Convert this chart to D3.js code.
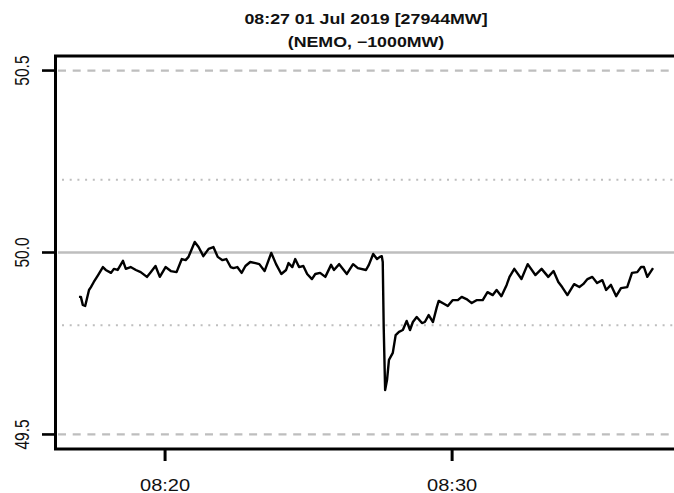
<!DOCTYPE html>
<html>
	<head>
		<script src="https://d3js.org/d3.v7.min.js" charset="utf-8"></script>
		<style type="text/css">
			body {
				margin: 0;
				background-color: white;
				font-family: "Liberation Sans", Arial, sans-serif;
			}
		</style>
	</head>
	<body>
		<script>
		// chart data
		var titleLines = ["08:27 01 Jul 2019 [27944MW]", "(NEMO, \u22121000MW)"];
		var startTime = "2019-07-01 08:17:00";
		var offsetSec = [0, 4, 8, 13, 17, 21, 25, 31, 40, 50, 56, 67, 73, 81, 92, 98, 108, 119, 129, 142,
			150, 160, 169, 181, 192, 204, 215, 223, 229, 242, 250, 260, 271, 281, 290, 300, 308, 317, 323, 331,
			340, 348, 358, 369, 377, 388, 402, 412, 423, 433, 438, 446, 452, 460, 469, 477, 487, 494, 504, 515,
			527, 533, 544, 560, 573, 583, 600, 606, 615, 623, 629, 633, 635, 637, 640, 644, 648, 656, 662, 669,
			677, 685, 692, 698, 706, 717, 723, 731, 740, 748, 752, 760, 771, 781, 792, 800, 810, 821, 831, 844,
			854, 865, 873, 883, 894, 900, 910, 925, 938, 954, 967, 981, 992, 1002, 1010, 1021, 1035, 1046, 1054, 1063,
			1073, 1083, 1094, 1102, 1112, 1123, 1133, 1146, 1156, 1167, 1175, 1181, 1188, 1200];
		var freq = [49.878, 49.878, 49.856, 49.853, 49.875, 49.897, 49.905, 49.919, 49.938, 49.960, 49.952, 49.944, 49.955, 49.952, 49.977, 49.955, 49.960, 49.952, 49.946, 49.933,
			49.946, 49.963, 49.933, 49.960, 49.949, 49.946, 49.982, 49.979, 49.988, 50.029, 50.015, 49.990, 50.010, 50.015, 49.988, 49.979, 49.982, 49.960, 49.957, 49.960,
			49.944, 49.963, 49.974, 49.971, 49.968, 49.949, 49.999, 49.968, 49.941, 49.952, 49.971, 49.960, 49.982, 49.960, 49.963, 49.941, 49.927, 49.941, 49.944, 49.933,
			49.966, 49.952, 49.968, 49.941, 49.968, 49.957, 49.952, 49.966, 49.996, 49.982, 49.988, 49.990, 49.974, 49.795, 49.622, 49.650, 49.705, 49.724, 49.773, 49.782,
			49.787, 49.812, 49.787, 49.809, 49.823, 49.806, 49.809, 49.828, 49.809, 49.850, 49.867, 49.861, 49.853, 49.869, 49.869, 49.878, 49.872, 49.861, 49.869, 49.869,
			49.891, 49.883, 49.897, 49.880, 49.911, 49.933, 49.955, 49.927, 49.968, 49.938, 49.955, 49.933, 49.949, 49.919, 49.905, 49.883, 49.913, 49.905, 49.913, 49.927,
			49.933, 49.916, 49.924, 49.897, 49.911, 49.880, 49.902, 49.905, 49.944, 49.946, 49.960, 49.960, 49.933, 49.957];
		var xTickLabels = ["08:20", "08:30"];
		var yTicks = [49.5, 50.0, 50.5];
		var dashedLevels = [49.5, 50.5];
		var dottedLevels = [49.8, 50.2];
		var solidLevels = [50.0];

		var w = 674;
		var h = 493;
		var stretch = 1.27; // the source picture is wider than it is tall

		var parseTime = d3.timeParse("%Y-%m-%d %H:%M");
		var parseFull = d3.timeParse("%Y-%m-%d %H:%M:%S");
		var t0 = parseFull(startTime);

		var data = offsetSec.map(function(s, i) {
			return {t: new Date(t0.getTime() + s * 1000), f: freq[i]};
		});

		// R style 4% padding round the data range
		var tExt = d3.extent(data, function(d) {return d.t});
		var pad = (tExt[1] - tExt[0]) * 0.04;
		var x = d3.scaleTime()
			.domain([new Date(tExt[0].getTime() - pad), new Date(tExt[1].getTime() + pad)])
			.range([56, 676]);
		var y = d3.scaleLinear()
			.domain([49.46, 50.54])
			.range([449, 56]);

		var svg = d3.select("body")
			.append("svg")
			.attr("width", w)
			.attr("height", h);

		// grid lines
		svg.selectAll(".dashed")
			.data(dashedLevels)
			.enter()
				.append("line")
				.attr("x1", 58).attr("x2", 676)
				.attr("y1", function(d) {return y(d)})
				.attr("y2", function(d) {return y(d)})
				.attr("stroke", "#bebebe")
				.attr("stroke-width", 2.2)
				.attr("stroke-dasharray", "8,6.7");

		svg.selectAll(".dotted")
			.data(dottedLevels)
			.enter()
				.append("line")
				.attr("x1", 62).attr("x2", 676)
				.attr("y1", function(d) {return y(d)})
				.attr("y2", function(d) {return y(d)})
				.attr("stroke", "#bebebe")
				.attr("stroke-width", 2)
				.attr("stroke-dasharray", "2,5.7");

		svg.selectAll(".solid")
			.data(solidLevels)
			.enter()
				.append("line")
				.attr("x1", 58).attr("x2", 676)
				.attr("y1", function(d) {return y(d)})
				.attr("y2", function(d) {return y(d)})
				.attr("stroke", "#bebebe")
				.attr("stroke-width", 2.6);

		// frequency trace
		var line = d3.line()
			.x(function(d) {return x(d.t)})
			.y(function(d) {return y(d.f)});

		svg.append("path")
			.datum(data)
			.attr("d", line)
			.attr("fill", "none")
			.attr("stroke", "black")
			.attr("stroke-width", 2.4)
			.attr("stroke-linejoin", "round");

		// box
		svg.append("rect")
			.attr("x", 55.5).attr("y", 56)
			.attr("width", 624).attr("height", 393)
			.attr("fill", "none")
			.attr("stroke", "black")
			.attr("stroke-width", 3);

		// y axis
		svg.selectAll(".ytick")
			.data(yTicks)
			.enter()
				.append("line")
				.attr("x1", 42).attr("x2", 56)
				.attr("y1", function(d) {return y(d)})
				.attr("y2", function(d) {return y(d)})
				.attr("stroke", "black")
				.attr("stroke-width", 2.6);

		svg.selectAll(".ylab")
			.data(yTicks)
			.enter()
				.append("text")
				.attr("transform", function(d) {return "translate(29," + y(d) + ") scale(" + stretch + ",1) rotate(-90)"})
				.attr("text-anchor", "middle")
				.attr("font-size", "15.5px")
				.attr("fill", "#111")
				.text(function(d) {return d3.format(".1f")(d)});

		// x axis
		var xTicks = xTickLabels.map(function(s) {return parseTime("2019-07-01 " + s)});

		svg.selectAll(".xtick")
			.data(xTicks)
			.enter()
				.append("line")
				.attr("x1", function(d) {return x(d)})
				.attr("x2", function(d) {return x(d)})
				.attr("y1", 449).attr("y2", 461)
				.attr("stroke", "black")
				.attr("stroke-width", 3);

		svg.selectAll(".xlab")
			.data(xTicks)
			.enter()
				.append("text")
				.attr("transform", function(d) {return "translate(" + x(d) + ",491) scale(" + stretch + ",1)"})
				.attr("text-anchor", "middle")
				.attr("font-size", "15.8px")
				.attr("fill", "#111")
				.text(function(d) {return d3.timeFormat("%H:%M")(d)});

		// title
		var cx = (x.range()[0] + x.range()[1]) / 2;
		svg.selectAll(".title")
			.data(titleLines)
			.enter()
				.append("text")
				.attr("transform", function(d, i) {return "translate(" + cx + "," + (24 + i * 23) + ") scale(" + stretch + ",1)"})
				.attr("text-anchor", "middle")
				.attr("font-size", "14px")
				.attr("font-weight", "bold")
				.attr("fill", "#111")
				.text(function(d) {return d});
		</script>
	</body>
</html>
